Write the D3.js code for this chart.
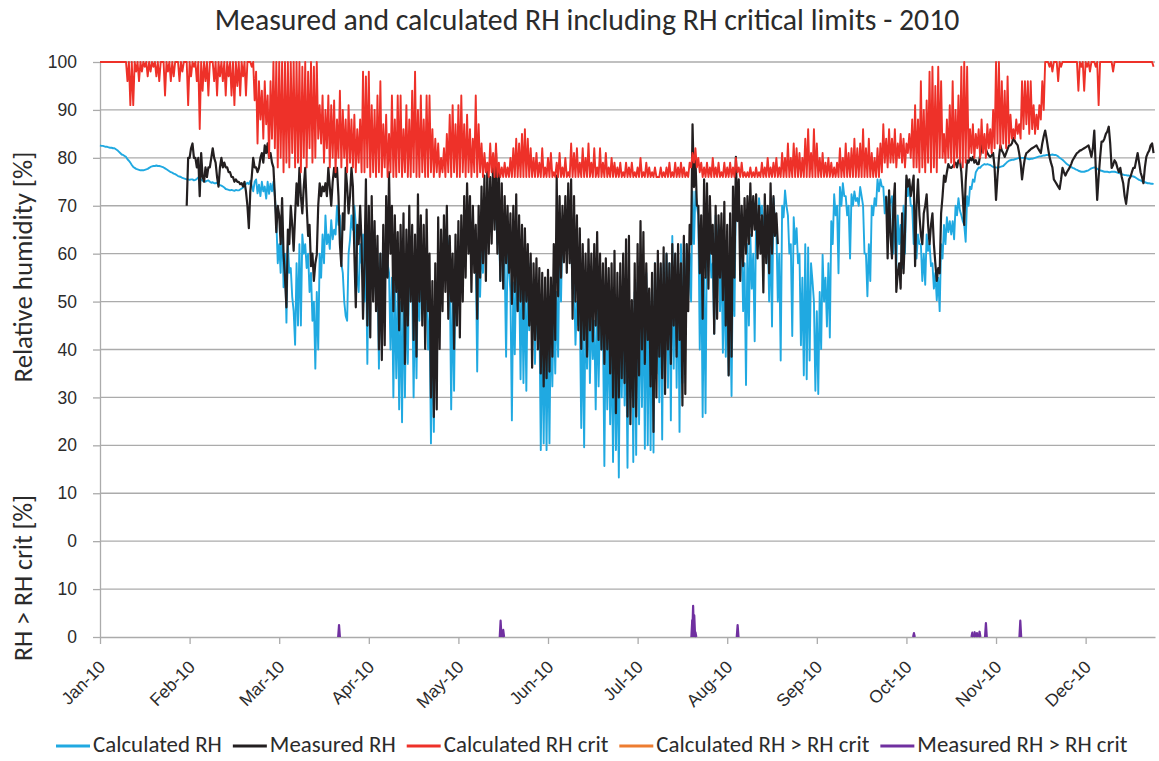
<!DOCTYPE html>
<html>
<head>
<meta charset="utf-8">
<script src="https://cdn.jsdelivr.net/npm/d3@7"></script>
<style>
  body { margin: 0; background: #fff; }
  svg { display: block; font-family: Carlito, Lato, "Open Sans", sans-serif; }
</style>
</head>
<body>
<div id="chart"></div>
<script>
// x axis: ticks every 31 days (744 hourly records), labelled with the month of that record
const monthLabels = ['Jan-10', 'Feb-10', 'Mar-10', 'Apr-10', 'May-10', 'Jun-10',
  'Jul-10', 'Aug-10', 'Sep-10', 'Oct-10', 'Nov-10', 'Dec-10'];
const monthTickDays = [0, 31, 62, 93, 124, 155, 186, 217, 248, 279, 310, 341];

// y axis: top panel 0..100, bottom panel (exceedance) drawn below it
const yTickValues = [-20, -10, 0, 10, 20, 30, 40, 50, 60, 70, 80, 90, 100];
const yTickLabels = ['0', '10', '0', '10', '20', '30', '40', '50', '60', '70', '80', '90', '100'];

// two readings per day (night / day), starting 1 Jan
const calcRH = [
  82.6,82.5,82.5,82.4,82.3,82.3,82.2,82.1,82.1,82.0,82.0,81.8,81.6,81.3,81.0,80.7,80.6,80.4,80.2,79.7,
  79.4,79.0,78.5,78.1,77.9,77.7,77.6,77.5,77.4,77.4,77.4,77.5,77.6,77.7,77.9,78.1,78.2,78.3,78.3,78.4,
  78.3,78.3,78.2,78.1,78.0,77.8,77.6,77.4,77.2,77.0,76.9,76.7,76.6,76.4,76.2,76.1,76.0,75.8,75.7,75.6,
  75.5,75.5,75.4,75.5,75.5,75.3,75.4,75.6,75.9,75.7,75.5,75.2,75.3,75.0,75.2,75.3,75.0,74.8,74.9,74.7,
  74.7,74.8,74.5,74.3,74.2,74.0,73.8,73.5,73.4,73.3,73.2,73.3,73.2,73.1,73.3,73.2,73.2,73.4,73.6,73.8,
  74.2,74.5,74.8,74.5,75.2,74.2,73.0,75.0,75.5,72.6,74.4,72.0,75.0,73.0,74.0,71.5,75.0,72.5,74.6,73.0,
  75.0,72.0,67,58,62,56,68,53,60,45.6,62,56,57,51,48,41,58,45,62,45,
  64,60,62,57,60,52,56,46,50,36,52,40,60,55,64,58,68,62,64,61,
  67,63,65,64,70,66,68,58,56,50,47,46,60,63,68,65,70,66,55,52,
  62,58,64,50,60,37,63,55,64,60,62,50,58,36,60,42,62,56,60,58,
  56,40,55,30,54,34,52,27.5,50,24.8,54,30,55,37,58,52.7,54,30,52,34,
  56,46,58,54,54,48,50,40,48,20.4,45,22.8,50,38.5,56,48,58,54,60,56,
  64,62,56,27.5,52,31.4,58,46,60,52.7,64,59.8,66,62,67,66,68,64,66,62,
  60,35.4,58,51,62,56,64,59.8,67,66,68,65,69,68,68,62,66,54.3,69,60,
  58,38.5,60,57,52,25.2,54,39,58,48,55,33.8,56,33,54,31.4,56,44,58,46.4,
  50,37,52,41.7,48,19,46,20.4,45,19,44,20.4,48,32.3,50,35,52,38.5,62,50,
  66,62.9,67,65,68,66,62,52.7,55,41,50,45,48,23.6,46,19.6,50,36,52,33,
  48,38,46,27.5,50,32.3,48,40,45,15.7,48,27.5,46,24.4,42,16.5,45,19,40,13.3,
  48,30,46,28.3,44,15.3,50,30,48,16.5,52,18,54,24.4,50,28,55,19.3,56,20,
  52,19,54,18.5,58,35,56,29,57,21.2,58,36,60,32,58,25.2,63.7,36,60,32,
  58,22.8,62,33,63,45,62,50.3,60,50,73,62,73,70,68,40,60,25.9,55,26.7,
  66,63.7,62,55,58,43.3,68,60,66,48,60,39.3,56,38.5,52,34.6,50,30.3,60,47,
  72.4,68,70,65.3,64,48,58,32.6,62,45,64,52.7,60,41.7,68,62,71.6,68,70,66,
  68,64.5,66,50,64,44.8,71.6,66.8,66,50,60,37.7,70,67.6,73.2,70,68,60,62,42.8,
  67.6,62,65.3,58,60,40.9,55,34.6,62,33.8,61.3,37.7,58,54.3,50,31.4,48,30.7,52,40.1,
  59.8,50,55,44.8,58,42.5,66.8,62,72.4,68,70,55.9,73.9,70,74.7,72,72,68,70,59,
  72.4,70,73,71,71.6,70,73.9,72,70,60,60,51.1,62,54.3,70,68,71.6,70,75.5,73,
  75.5,74,74,68.4,72,69,70,70.8,72,60,70,57,68,62,66,57,70,60,75.5,72,
  74,70,70,62,66,59,64,62,62,54.3,60,53.5,64,60.6,62,57.4,58,52.7,56,50.3,
  55,48,62,59,66,62,67.6,64.5,66.8,64,66.8,63,70,68,71.6,69,68,66.8,66,62.5,
  72,70,74,73.5,75.5,75,77,77.5,78,77.9,78.3,78.5,78.7,78.6,78.7,78.6,78.5,78.3,78.1,78.0,
  78,77.9,78,78.1,78.2,78.3,78.6,78.9,79.2,79.4,79.5,79.6,79.6,79.7,79.8,79.9,80,80,80,80,
  80,79.9,79.8,79.7,79.8,79.8,79.9,80,80.1,80.2,80.3,80.3,80.4,80.5,80.5,80.6,80.6,80.6,80.6,80.7,
  80.6,80.6,80.5,80.3,80.0,79.8,79.6,79.3,79.0,78.7,78.5,78.3,78.1,77.9,77.8,77.6,77.5,77.3,77.2,77.1,
  77.1,77.1,77.2,77.3,77.4,77.6,77.8,77.9,78.0,77.9,77.7,77.5,77.4,77.3,77.2,77.1,77.1,77.1,77.0,77.0,
  77.1,77.1,77.1,77.0,76.9,76.8,76.7,76.6,76.5,76.4,76.4,76.3,76.3,76.2,76.2,76.1,76.0,75.8,75.6,75.4,
  75.3,75.1,75.0,74.9,74.8,74.7,74.7,74.6,74.6,74.5
];

// measured RH: logger data from 31 Jan to 23 Aug, then from 30 Sep to year end
const measStartA = 30;
const measRH_A = [
  70,80,80,82,83,80,80,78,80,72,81,76,75,78,76,78,78,80,82,80,
  79,76,74,78,80,78,79,78,78,77,77,76,76,75,75.5,75,75,74.5,74.7,74,
  75,73,70,65.3,73,76,80,78,78,77,77.9,80,81,79,82.6,81,83,80,81,79,
  78,72,64.5,70,68,62,71.6,60,55,48.8,65,62,70,66,60.6,68,74.7,70,77.9,72,
  68.4,74,77.9,70,63.7,66,57.4,60,54.3,58,59.8,70,74.7,72,74,73,74.7,72,77.9,74,
  70,75,77.9,76,77.9,72,62,57.4,68.4,65,77.9,74,68.4,72,77.9,74,60,48.8,66,62,
  70,62,46.4,58,75.5,45,70,42.5,72,50,66.8,48,63.7,40,60,37.8,66,40.9,72,55,
  77,60,70,48,68,52,64.5,44,66,48,68.4,37,65,45,70,50,66,42,64,38.5,
  72.4,50,68,45,66,40.1,69.2,48,60,30,54.3,25.9,58,27.5,67.6,40.1,65,48,68,52,
  70,46.4,63.7,50,60,40.1,64,45,66.8,42.5,68,50,72,55,74.7,60,72,52,70,56,
  66,46.4,70,55,74,58,76.3,54.3,77.9,60,76,62.1,79,65,81,60,78,54.3,74.7,52.7,
  72,58,70,56,68.4,49.5,70,52,72.4,48,68,50,66,46.4,65.3,50,62,45,60,36.2,
  58,42,59,40,57,35,56,32.3,55,34,56.6,35.4,55,38.5,62,42,76.3,51.1,72,55,
  70,58.2,72,56,74.7,58,75.5,46.4,72,50,68,44,65.3,40.1,62,42,60,38.5,63,44,
  60,41.7,62,45,64.5,42,60,40,58,37,59,40,57,35,58,30,60.6,26.7,56,30,
  58,34,60,33,63,26,63.7,24.4,50.3,28,58,26,62,34.6,66.8,40,64.5,37,58,42,
  52.7,32.3,56,22.8,58,30,60.6,38.5,58,34,61.3,30.7,60,40,58,37,62,45,60,38.5,
  62,42,58,28.3,63.7,30.7,62,48,66,62,87,73.9,80,70,70,55.9,68,46.4,75.5,55,
  74.7,52.7,72,60,66,43.3,70,46.4,68,55,68.4,50.3,70.8,45,66,34.6,68.4,38.5,74,55,
  80.2,66.8,75.5,54.3,70,57.4,71.6,60,72,62,74.7,63.7,72,65,72.4,59,70,60,68,51.9,
  72.4,58,70,55.9,74.7,60,72,63.7,68.4,62
];
const measStartB = 272;
const measRH_B = [
  72,59,73.2,63.7,
  59,70,74.7,52,56,58,52.7,68.4,55.9,64.5,76.3,74,
  75.5,72,74,76.3,57.4,70,75.5,68,64,62,68.4,70,72.4,66,62,66,68.4,62,58,54.3,
  57,55.9,68.4,72,76.3,75,77,78.7,78,77.9,78.2,78.7,79,78,79.5,79.5,77,72,66,75,
  79.5,79,80,79.5,80.2,79,79.5,78.7,78.7,80.5,82,83.4,82.5,81.8,81,80.5,80.2,80.5,81,78,
  71.2,76,80,82.6,81.5,81,80.2,81,81.8,82.6,82.6,83,84.2,83.5,83,82.6,81,79,75.5,78,
  80,81,81.2,81.5,81.8,82,82.2,82.4,82.6,82,81.5,81,83,84.5,85.7,84,82,80.2,79,78,
  75.5,75,74.5,74,73.5,75.5,77.9,77,76.3,77,77.5,78,78.7,79.5,80,80.5,81,81.2,81.5,81.6,
  81.8,82,82.2,82.4,82.6,81.5,80.2,82,85.7,78,71.2,76,80,83.4,83.4,84,85,85.5,86.5,83,
  77.9,78.5,79.5,79,77.9,77,77.9,76,74.7,72,70.4,73,75.5,76,77,77.9,77.9,79.5,81,79,
  77,76,74.7,78,80.2,81,81.5,82.6,83,81
];

const calcCrit = [
  100,100,100,100,100,100,100,100,100,100,100,100,100,100,100,100,100,100,100,96,
  100,91,100,91,100,98,100,96,100,98,100,99,100,97,100,98,100,99,100,97,
  100,96,100,100,100,93,100,98,100,96,100,97,100,100,100,96,100,98,100,100,
  100,91,100,97,100,99,100,96,100,86,100,94,100,96,100,93,100,100,100,96,
  100,93,100,97,100,96,100,93,100,97,100,93,100,91,100,95,100,93,100,97,
  100,93,100,100,100,99,100,92,98,83,96,88,94,84,96,87,93,80,96,84,
  100,82,100,78,100,80,100,77,100,79,100,78,100,81,100,78,100,79,100,77,
  99,80,100,78,98,82,100,79,99,80,100,84,91,83,93,79,90,82,93,78,
  91,80,92,77,88,80,94,78,90,80,88,77,91,79,88,78,89,77,86,79,
  88,77,98,77,97,78,98,76,91,77,90,76,93,77,96,76,87,78,89,76,
  85,77,93,76,88,76,93,77,93,76,86,77,91,76,88,76,94,77,98,76,
  90,76,93,77,88,76,93,76,93,77,86,76,84,77,83,76,80,77,82,76,
  85,77,89,76,91,77,87,76,91,76,93,77,87,76,89,77,86,76,84,77,
  93,76,87,77,83,76,81,77,79,76,83,77,81,76,83,76,79,76,78,76,
  79,76,78,76,80,76,82,76,84,76,83,76,85,76,86,76,84,76,82,76,
  80,76,81,76,79,76,82,76,78,76,80,76,81,76,77,76,79,76,81,76,
  78,76,80,76,77,76,83,76,81,76,82,76,79,76,82,76,80,76,83,76,
  79,76,82,76,78,76,82,76,79,76,81,76,78,76,80,76,79,76,78,76,
  79,76,77,76,79,76,78,76,79,76,77,76,78,76,80,76,77,76,79,76,
  78,76,77,76,78,76,76,76,78,76,77,76,78,76,79,76,77,76,79,76,
  78,76,79,76,78,76,77,76,79,78,81,79,82,78,80,77,79,76,78,76,
  79,76,78,76,80,76,78,76,79,76,77,76,79,76,78,76,79,76,78,76,
  80,77,78,76,79,76,77,76,77,76,78,76,77,76,78,76,77,76,79,76,
  78,76,80,76,78,76,79,76,80,76,78,76,81,76,80,76,83,76,80,76,
  83,76,82,76,81,76,80,76,84,76,86,76,81,76,86,76,83,76,80,76,
  81,76,79,76,80,76,79,76,78,76,79,76,82,76,80,76,83,76,81,76,
  82,76,84,76,82,76,83,76,86,76,82,76,84,76,81,76,80,76,82,76,
  83,77,87,79,84,78,86,79,84,79,86,78,83,80,85,79,84,78,83,81,
  85,80,88,78,91,78,88,77,96,78,90,77,92,79,98,77,99,78,95,77,
  99,80,96,80,85,79,88,80,91,79,96,78,90,80,93,79,99,78,100,79,
  99,80,86,81,87,80,85,82,86,80,88,81,85,80,87,82,86,81,90,82,
  100,83,100,82,96,83,94,82,97,83,89,84,86,84,88,85,87,84,96,86,
  96,87,96,85,96,86,91,85,89,86,91,88,96,90,100,100,100,99,100,98,
  100,100,100,96,100,99,100,100,100,100,100,100,100,100,100,100,100,94,100,99,
  100,94,100,99,100,98,100,100,100,99,100,91,100,100,100,100,100,100,100,100,
  100,98,100,100,100,100,100,100,100,100,100,100,100,100,100,100,100,100,100,100,
  100,100,100,100,100,100,100,100,100,99
];

// exceedance series: the calculated one never exceeds, the measured one has short peaks
const calcOverDays = [];
const calcOverValues = [];
const measOverDays = [82.7, 138.6, 139.5, 204.9, 205.2, 205.6, 206.0, 220.6, 281.6, 301.8, 302.6, 303.4, 304.3, 306.5, 318.4];
const measOverValues = [2.5, 3.4, 1.5, 3.5, 6.5, 4.5, 1.0, 2.5, 0.8, 0.9, 1.0, 0.8, 1.1, 2.9, 3.4];

const seriesNames = ['Calculated RH', 'Measured RH', 'Calculated RH crit', 'Calculated RH > RH crit', 'Measured RH > RH crit'];
const seriesColors = ['#20a9e1', '#231f20', '#ee3129', '#ed7d31', '#7030a0'];

const width = 1159;
const height = 761;
const textColor = '#2b2b2b';
const gridColor = '#ababab';

const svg = d3.select('#chart').append('svg')
  .attr('width', width)
  .attr('height', height);

const x = d3.scaleLinear().domain([0, 365]).range([100, 1155]);
const y = d3.scaleLinear().domain([-20, 100]).range([637, 62]);
const yLow = d3.scaleLinear().domain([0, 20]).range([y(-20), y(0)]);

function fitWidth(sel, target) {
  const w = sel.node().getComputedTextLength();
  const fs = parseFloat(sel.attr('font-size'));
  sel.attr('font-size', (fs * target) / w);
}

// Gridlines
svg.append('g')
  .selectAll('line')
  .data(yTickValues.filter((v) => v > -20))
  .join('line')
  .attr('x1', x(0))
  .attr('x2', x(365))
  .attr('y1', (d) => y(d))
  .attr('y2', (d) => y(d))
  .attr('stroke', gridColor)
  .attr('stroke-width', 1.3);

// Axes
const yAxis = svg.append('g')
  .attr('transform', `translate(${x(0)},0)`)
  .call(d3.axisLeft(y)
    .tickValues(yTickValues)
    .tickFormat((d, i) => yTickLabels[i])
    .tickSize(7)
    .tickSizeOuter(0)
    .tickPadding(16));
yAxis.select('.domain').attr('stroke', gridColor).attr('stroke-width', 1.3);
yAxis.selectAll('.tick line').attr('stroke', gridColor).attr('stroke-width', 1.3);
yAxis.selectAll('.tick text')
  .attr('font-size', 17.5)
  .attr('font-family', null)
  .attr('fill', textColor);

const xAxis = svg.append('g')
  .attr('transform', `translate(0,${y(-20)})`)
  .call(d3.axisBottom(x)
    .tickValues(monthTickDays)
    .tickFormat((d, i) => monthLabels[i])
    .tickSize(7)
    .tickSizeOuter(0));
xAxis.select('.domain').attr('stroke', gridColor).attr('stroke-width', 1.3);
xAxis.selectAll('.tick line').attr('stroke', gridColor).attr('stroke-width', 1.3);
xAxis.selectAll('.tick text')
  .attr('font-size', 17.5)
  .attr('font-family', null)
  .attr('fill', textColor)
  .attr('text-anchor', 'end')
  .attr('y', 0)
  .attr('dy', 0)
  .attr('transform', 'translate(6,31) rotate(-45)');

// Series lines
const line = d3.line()
  .defined((d) => d.v !== null)
  .x((d) => x(d.t))
  .y((d) => y(d.v));

function toPoints(values, startDay) {
  return values.map((v, i) => ({ t: startDay + i / 2, v }));
}

const plot = svg.append('g').attr('fill', 'none').attr('stroke-linejoin', 'round');

plot.append('path')
  .datum(toPoints(calcRH, 0))
  .attr('stroke', seriesColors[0])
  .attr('stroke-width', 1.9)
  .attr('d', line);

[toPoints(measRH_A, measStartA), toPoints(measRH_B, measStartB)].forEach((pts) => {
  plot.append('path')
    .datum(pts)
    .attr('stroke', seriesColors[1])
    .attr('stroke-width', 2.2)
    .attr('d', line);
});

plot.append('path')
  .datum(toPoints(calcCrit, 0))
  .attr('stroke', seriesColors[2])
  .attr('stroke-width', 1.9)
  .attr('d', line);

// Exceedance peaks in the lower panel
const spike = d3.line()
  .x((d) => x(d.t))
  .y((d) => yLow(d.v));

function drawPeaks(days, values, color) {
  days.forEach((t, i) => {
    plot.append('path')
      .datum([{ t: t - 0.3, v: 0 }, { t, v: values[i] }, { t: t + 0.3, v: 0 }])
      .attr('stroke', color)
      .attr('stroke-width', 2.2)
      .attr('d', spike);
  });
}
drawPeaks(calcOverDays, calcOverValues, seriesColors[3]);
drawPeaks(measOverDays, measOverValues, seriesColors[4]);

// Title
const title = svg.append('text')
  .attr('x', 587)
  .attr('y', 30)
  .attr('text-anchor', 'middle')
  .attr('font-size', 24)
  .attr('fill', textColor)
  .text('Measured and calculated RH including RH critical limits - 2010');
fitWidth(title, 745);

// Axis titles
const yTitle = svg.append('text')
  .attr('transform', 'translate(32,267) rotate(-90)')
  .attr('text-anchor', 'middle')
  .attr('font-size', 20)
  .attr('fill', textColor)
  .text('Relative humidity [%]');
fitWidth(yTitle, 231);

const yTitle2 = svg.append('text')
  .attr('transform', 'translate(32,578) rotate(-90)')
  .attr('text-anchor', 'middle')
  .attr('font-size', 20)
  .attr('fill', textColor)
  .text('RH > RH crit [%]');
fitWidth(yTitle2, 166);

// Legend
const legend = svg.append('g');
const items = legend.selectAll('g')
  .data(seriesNames)
  .join('g');
items.append('line')
  .attr('x1', 0)
  .attr('x2', 34)
  .attr('y1', 0)
  .attr('y2', 0)
  .attr('stroke', (d, i) => seriesColors[i])
  .attr('stroke-width', 3);
const labels = items.append('text')
  .attr('x', 37)
  .attr('y', 6)
  .attr('font-size', 18)
  .attr('fill', textColor)
  .text((d) => d);

let total = 0;
labels.each(function measure() { total += this.getComputedTextLength(); });
const legendFont = (18 * 843) / total;
labels.attr('font-size', legendFont);

let cursor = 56;
items.each(function place() {
  const g = d3.select(this);
  g.attr('transform', `translate(${cursor},746)`);
  cursor += 37 + g.select('text').node().getComputedTextLength() + 11;
});
</script>
</body>
</html>
